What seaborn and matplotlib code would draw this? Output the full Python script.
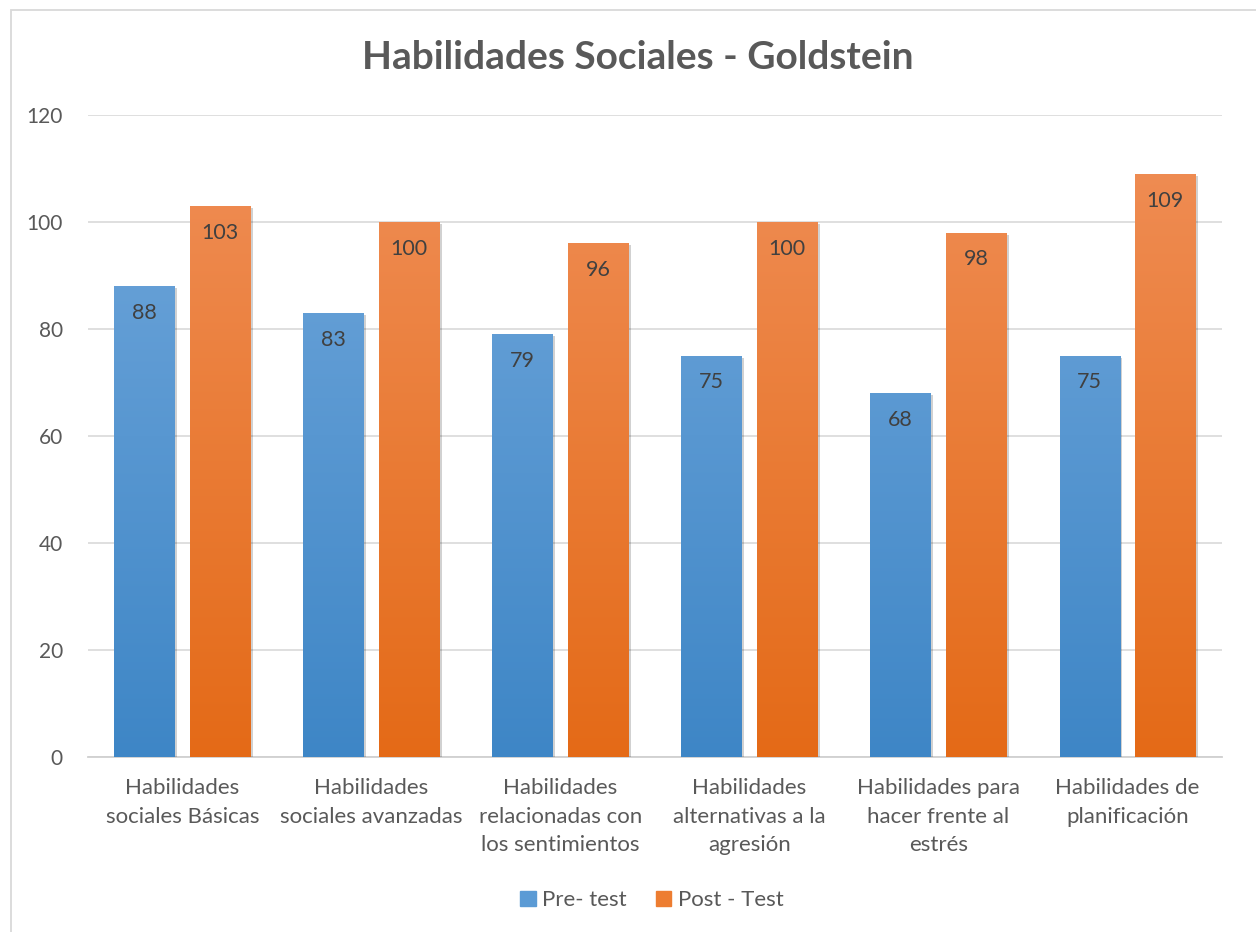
import numpy as np
import pandas as pd
import matplotlib
matplotlib.use("Agg")
import matplotlib.pyplot as plt
import seaborn as sns
from matplotlib.patches import Rectangle
from matplotlib.colors import LinearSegmentedColormap
import matplotlib.patheffects as pe

categories = ["Habilidades\nsociales Básicas", "Habilidades\nsociales avanzadas",
              "Habilidades\nrelacionadas con\nlos sentimientos", "Habilidades\nalternativas a la\nagresión",
              "Habilidades para\nhacer frente al\nestrés", "Habilidades de\nplanificación"]
series = ["Pre- test", "Post - Test"]
pre_values = [88, 83, 79, 75, 68, 75]
post_values = [103, 100, 96, 100, 98, 109]
yticks = [0, 20, 40, 60, 80, 100, 120]

df = pd.DataFrame({
    "cat": categories * 2,
    "serie": [series[0]] * 6 + [series[1]] * 6,
    "val": pre_values + post_values,
})

sns.set_theme(style="white")
plt.rcParams['font.family'] = ['Lato', 'DejaVu Sans']

fig = plt.figure(figsize=(12.56, 9.32), dpi=100)
ax = fig.add_axes([0.070, 0.1878, 0.903, 0.6888])

base_colors = {series[0]: "#5B9BD5", series[1]: "#ED7D31"}
sns.barplot(data=df, x="cat", y="val", hue="serie", palette=base_colors,
            width=0.8, gap=0.2, ax=ax, legend=False, saturation=1, zorder=3)

grads = {
    series[0]: LinearSegmentedColormap.from_list("b", ["#3E86C6", "#72A8DC"]),
    series[1]: LinearSegmentedColormap.from_list("o", ["#E46A17", "#F08F58"]),
}

ax.set_ylim(0, 120)
ax.set_xlim(-0.5, 5.5)
grad_img = np.linspace(0, 1, 256).reshape(-1, 1)
for container, s in zip(ax.containers, series):
    for patch, v in zip(container.patches, (pre_values if s == series[0] else post_values)):
        x0, y0 = patch.get_x(), patch.get_y()
        w, h = patch.get_width(), patch.get_height()
        patch.set_path_effects([pe.SimplePatchShadow(offset=(1.5, -1.5), shadow_rgbFace="#000000", alpha=0.18)])
        im = ax.imshow(grad_img, cmap=grads[s], origin="lower", aspect="auto",
                       extent=[x0, x0 + w, 0, 120], zorder=4, interpolation="bilinear")
        im.set_clip_path(patch)
        ax.text(x0 + w / 2, v - 5.0, str(v), ha="center", va="center",
                fontsize=15.5, color="#404040", zorder=6)

ax.set_yticks(yticks)
ax.set_yticklabels([str(t) for t in yticks])
ax.yaxis.grid(True, color="#D9D9D9", linewidth=1.2, zorder=0)
ax.set_axisbelow(True)
for sp in ["left", "right", "top"]:
    ax.spines[sp].set_visible(False)
ax.spines["bottom"].set_color("#D0D0D0")
ax.spines["bottom"].set_linewidth(1.3)
ax.tick_params(axis="y", length=0, colors="#595959", labelsize=15, pad=18)
ax.tick_params(axis="x", length=0, colors="#595959", labelsize=16, pad=15)
ax.set_xlabel("")
ax.set_ylabel("")
for lbl in ax.get_xticklabels():
    lbl.set_linespacing(1.55)

fig.text(0.508, 0.938, "Habilidades Sociales - Goldstein", ha="center", va="center",
         fontsize=28, fontweight="bold", color="#595959")

handles = [Rectangle((0, 0), 1, 1, color=base_colors[s]) for s in series]
fig.legend(handles, series, loc="center", bbox_to_anchor=(0.519, 0.034), ncol=2,
           frameon=False, fontsize=16, labelcolor="#595959", handlelength=0.7,
           handleheight=0.7, handletextpad=0.3, columnspacing=1.3)

fig.add_artist(Rectangle((0.009, -0.01), 1.1, 1.0 - 0.011 + 0.01, transform=fig.transFigure,
                         fill=False, edgecolor="#D9D9D9", linewidth=1.3))

fig.savefig("out.png", dpi=100)
